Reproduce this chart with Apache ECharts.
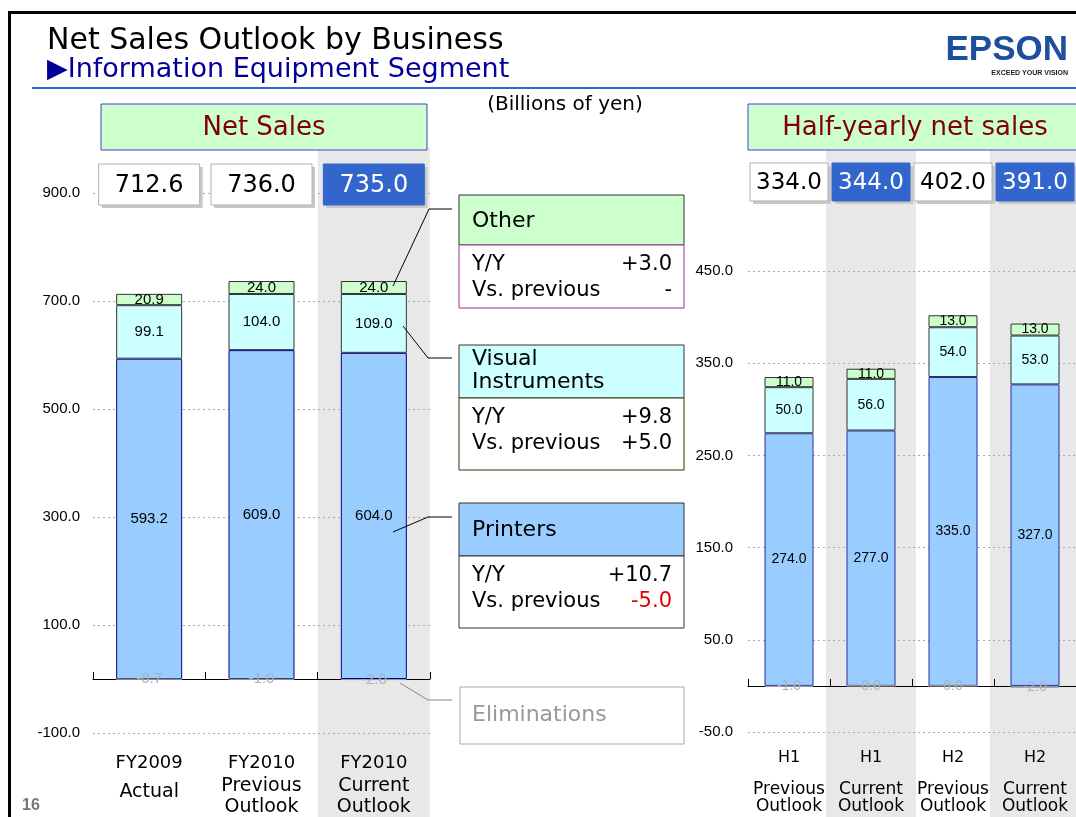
<!DOCTYPE html>
<html>
<head>
<meta charset="utf-8">
<title>Net Sales Outlook by Business</title>
<script src="https://cdn.jsdelivr.net/npm/echarts@6/dist/echarts.min.js"></script>
<style>
  html, body { margin: 0; padding: 0; background: #fff; }
  #main { width: 1076px; height: 817px; }
</style>
</head>
<body>
<div id="main"></div>
<script>
  // full year (Billions of yen)
  const fyCats = ['FY2009\nActual', 'FY2010\nPrevious\nOutlook', 'FY2010\nCurrent\nOutlook']
  const fyPrinters = [593.2, 609.0, 604.0]
  const fyVisual = [99.1, 104.0, 109.0]
  const fyOther = [20.9, 24.0, 24.0]
  const fyElim = [-0.7, -1.0, -2.0]
  const fyTotals = [712.6, 736.0, 735.0]
  const fyCurrent = [false, false, true]

  // half year
  const hCats = ['H1\nPrevious\nOutlook', 'H1\nCurrent\nOutlook', 'H2\nPrevious\nOutlook', 'H2\nCurrent\nOutlook']
  const hPrinters = [274.0, 277.0, 335.0, 327.0]
  const hVisual = [50.0, 56.0, 54.0, 53.0]
  const hOther = [11.0, 11.0, 13.0, 13.0]
  const hElim = [-1.0, 0.0, 0.0, -2.0]
  const hTotals = [334.0, 344.0, 402.0, 391.0]
  const hCurrent = [false, true, false, true]

  // change notes per business
  const notes = [
    {name: ['Other'], yy: '+3.0', prev: '-', head: '#CCFFCC', border: '#993399', y: 195},
    {name: ['Visual', 'Instruments'], yy: '+9.8', prev: '+5.0', head: '#CCFFFF', border: '#333300', y: 345},
    {name: ['Printers'], yy: '+10.7', prev: '-5.0', head: '#99CCFF', border: '#333333', y: 503}
  ]

  const WIDE = '"DejaVu Sans", Verdana, sans-serif'
  const ARIAL = '"Liberation Sans", Arial, sans-serif'

  let chart = echarts.init(document.getElementById('main'))

  function barSeries(name, data, xi, stack, color, border, width, labelSize, labelColor) {
    return {
      name: name,
      type: 'bar',
      stack: stack + xi,
      xAxisIndex: xi,
      yAxisIndex: xi / 2,
      barWidth: width,
      barGap: '-100%',
      data: data,
      itemStyle: {color: color, borderColor: border, borderWidth: 1},
      label: {
        show: true,
        position: 'inside',
        color: labelColor || '#000',
        fontFamily: ARIAL,
        fontSize: labelSize,
        textShadowColor: labelColor ? '#666' : 'transparent',
        textShadowOffsetX: labelColor ? 1 : 0,
        textShadowOffsetY: labelColor ? 1 : 0,
        formatter: p => p.value.toFixed(1)
      },
      z: 3
    }
  }

  function labelAxis(gi, cats, rich, margin) {
    return {
      type: 'category', gridIndex: gi, data: cats, position: 'bottom',
      axisLine: {show: false, onZero: false}, axisTick: {show: false},
      axisLabel: {
        interval: 0, margin: margin, color: '#000', fontFamily: WIDE,
        formatter: v => {
          let p = v.split('\n')
          if (p.length === 2) return '{f|' + p[0] + '}\n{a|' + p[1] + '}'
          return '{f|' + p[0] + '}\n{s|' + p[1] + '}\n{s|' + p[2] + '}'
        },
        rich: rich
      }
    }
  }

  function zeroAxis(gi, cats) {
    return {
      type: 'category', gridIndex: gi, data: cats,
      axisLine: {onZero: true, lineStyle: {color: '#000', width: 1}},
      axisTick: {show: true, inside: true, length: 7, lineStyle: {color: '#000'}},
      axisLabel: {show: false}
    }
  }

  function valAxis(gi, min, max, step, margin) {
    return {
      type: 'value', gridIndex: gi, min: min, max: max, interval: step,
      axisLine: {show: false}, axisTick: {show: false},
      axisLabel: {color: '#000', fontFamily: ARIAL, fontSize: 15, margin: margin, formatter: v => v.toFixed(1)},
      splitLine: {lineStyle: {color: '#AAAAAA', type: [2, 3], width: 1}}
    }
  }

  chart.setOption({
    animation: false,
    grid: [
      {left: 93, top: 193, width: 337, height: 542},
      {left: 748, top: 271, width: 332, height: 461}
    ],
    xAxis: [
      zeroAxis(0, fyCats),
      labelAxis(0, fyCats, {
        f: {fontSize: 18, lineHeight: 25, fontFamily: WIDE},
        s: {fontSize: 19, lineHeight: 21, fontFamily: WIDE},
        a: {fontSize: 19, lineHeight: 33, fontFamily: WIDE}
      }, 18),
      zeroAxis(1, hCats),
      labelAxis(1, hCats, {
        f: {fontSize: 16, lineHeight: 47, fontFamily: WIDE},
        s: {fontSize: 17, lineHeight: 17, fontFamily: WIDE}
      }, 2)
    ],
    yAxis: [
      valAxis(0, -100, 900, 200, 13),
      valAxis(1, -50, 450, 100, 15)
    ],
    series: [
      barSeries('Printers', fyPrinters, 0, 'biz', '#99CCFF', '#000080', 66, 15),
      barSeries('Visual Instruments', fyVisual, 0, 'biz', '#CCFFFF', '#333333', 66, 15),
      barSeries('Other', fyOther, 0, 'biz', '#CCFFCC', '#333333', 66, 15),
      barSeries('Eliminations', fyElim, 0, 'elim', '#999999', '#999999', 66, 15, '#B0B0B0'),
      barSeries('Printers', hPrinters, 2, 'biz', '#99CCFF', '#2A2AA0', 49, 14),
      barSeries('Visual Instruments', hVisual, 2, 'biz', '#CCFFFF', '#333333', 49, 14),
      barSeries('Other', hOther, 2, 'biz', '#CCFFCC', '#333333', 49, 14),
      barSeries('Eliminations', hElim, 2, 'elim', '#999999', '#999999', 49, 14, '#B0B0B0')
    ]
  })

  // ---- decorations (slide frame, headers, boxes) ----
  function rect(x, y, w, h, fill, stroke, lw, z) {
    return {type: 'rect', z: z || 10, shape: {x: x, y: y, width: w, height: h},
      style: {fill: fill, stroke: stroke || null, lineWidth: lw || 1}}
  }
  function text(x, y, s, size, color, align, font, weight) {
    return {type: 'text', z: 20, x: x, y: y,
      style: {text: s, fill: color, font: (weight || 'normal') + ' ' + size + 'px ' + (font || WIDE),
        textAlign: align || 'left', textVerticalAlign: 'middle', align: align || 'left', verticalAlign: 'middle'}}
  }
  function line(pts, color) {
    return {type: 'polyline', z: 15, shape: {points: pts}, style: {stroke: color, lineWidth: 1, fill: null}}
  }

  let g = []

  // grey bands behind the current outlook columns + total boxes
  function columns(xi, cats, totals, current, bandW, boxW, boxY, boxH, size) {
    cats.forEach((c, i) => {
      let cx = chart.convertToPixel({xAxisIndex: xi}, i)
      if (current[i]) g.push(rect(cx - bandW / 2, 147, bandW, 670, '#E8E8E8', null, 0, -5))
      g.push(rect(cx - boxW / 2 + 3, boxY + 3, boxW, boxH, '#C8C8C8', null, 0, 8))
      g.push(rect(cx - boxW / 2, boxY, boxW, boxH, current[i] ? '#3366CC' : '#FFFFFF',
        current[i] ? '#3366CC' : '#B0B0B0', 1, 9))
      g.push(text(cx, boxY + boxH / 2 + 1, totals[i].toFixed(1), size, current[i] ? '#FFFFFF' : '#000', 'center'))
    })
  }
  columns(0, fyCats, fyTotals, fyCurrent, 112, 101, 164, 41, 24)
  columns(2, hCats, hTotals, hCurrent, 90, 78, 163, 38, 23)

  // frame and title
  g.push(rect(8, 11, 1080, 3, '#000'))
  g.push(rect(8, 11, 3, 820, '#000'))
  g.push(rect(32, 87, 1050, 2, '#3366CC'))
  g.push(text(47, 41, 'Net Sales Outlook by Business', 30, '#000'))
  g.push(text(47, 70, '\u25B6Information Equipment Segment', 27, '#000099'))
  g.push(text(1068, 50, 'EPSON', 35, '#1F4E9D', 'right', ARIAL, 'bold'))
  g.push(text(1068, 73, 'EXCEED YOUR VISION', 7, '#222', 'right', ARIAL, 'bold'))
  g.push(text(565, 105, '(Billions of yen)', 20, '#000', 'center'))
  g.push(text(22, 806, '16', 16, '#777', 'left', ARIAL, 'bold'))

  // section headers
  g.push(rect(101, 104, 326, 46, '#CCFFCC', '#4040D8', 1))
  g.push(text(264, 128, 'Net Sales', 26, '#800000', 'center'))
  g.push(rect(748, 104, 340, 46, '#CCFFCC', '#4040D8', 1))
  g.push(text(915, 128, 'Half-yearly net sales', 26, '#800000', 'center'))

  // note boxes
  notes.forEach(n => {
    let hh = n.y === 195 ? 50 : 53
    let bh = n.y === 195 ? 63 : 72
    g.push(rect(459, n.y, 225, hh, n.head, '#333', 1))
    g.push(rect(459, n.y + hh, 225, bh, '#FFFFFF', n.border, 1))
    if (n.name.length > 1) {
      g.push(text(472, n.y + 14, n.name[0], 22, '#000'))
      g.push(text(472, n.y + 37, n.name[1], 22, '#000'))
    } else {
      g.push(text(472, n.y + hh / 2 + 1, n.name[0], 22, '#000'))
    }
    let t = n.y + hh
    g.push(text(472, t + 20, 'Y/Y', 21, '#000'))
    g.push(text(672, t + 20, n.yy, 21, '#000', 'right'))
    g.push(text(472, t + 46, 'Vs. previous', 21, '#000'))
    g.push(text(672, t + 46, n.prev, 21, n.prev.charAt(0) === '-' && n.prev.length > 1 ? '#E00000' : '#000', 'right'))
  })
  g.push(rect(460, 687, 224, 57, '#FFFFFF', '#AAAAAA', 1))
  g.push(text(472, 715, 'Eliminations', 22, '#999999'))

  // leader lines
  g.push(line([[393, 286], [429, 209], [452, 209]], '#000'))
  g.push(line([[403, 326], [428, 358], [452, 358]], '#000'))
  g.push(line([[393, 532], [428, 517], [452, 517]], '#000'))
  g.push(line([[400, 683], [428, 700], [452, 700]], '#888'))

  chart.setOption({graphic: {elements: g}})
</script>
</body>
</html>
